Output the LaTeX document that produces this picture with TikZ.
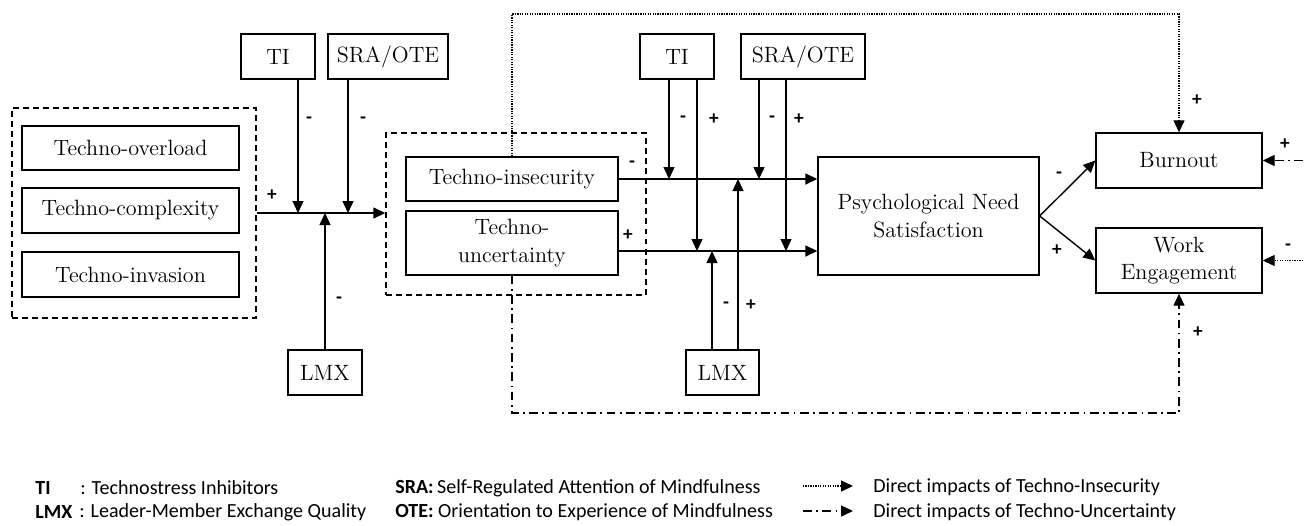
\documentclass[tikz,border=0pt]{standalone}
\usepackage{fontspec}
\newfontfamily\legfont{Carlito}
\usetikzlibrary{arrows.meta,positioning}

\begin{document}
\begin{tikzpicture}[x=0.02cm,y=-0.02cm,
  box/.style={draw,line width=0.8pt,inner sep=0pt,align=center,font=\fontsize{12.6}{15.5}\selectfont},
  grp/.style={draw,line width=0.8pt,dash pattern=on 3.4pt off 2.3pt},
  arr/.style={line width=0.8pt,-{Triangle[length=2.4mm,width=2.2mm]}},
  sgn/.style={font=\legfont\bfseries\fontsize{11}{13}\selectfont,inner sep=0pt},
  dotl/.style={line width=0.7pt,dash pattern=on 0.7pt off 0.7pt},
  ddl/.style={line width=0.8pt,dash pattern=on 5pt off 2.5pt on 1pt off 2.5pt},
  leg/.style={font=\legfont\fontsize{11.4}{13}\selectfont,inner sep=0pt,anchor=west}]
\useasboundingbox (0,0) rectangle (1314,525);
\node[box,minimum width=4.34cm,minimum height=0.88cm] (ovl) at (130.5,148) {Techno-overload};
\node[box,minimum width=4.34cm,minimum height=0.9cm] (cpx) at (130.5,210.5) {Techno-complexity};
\node[box,minimum width=4.34cm,minimum height=0.9cm] (inv) at (130.5,274.5) {Techno-invasion};
\node[grp,minimum width=4.88cm,minimum height=4.2cm] (grpA) at (134,213) {};
\node[box,minimum width=4.24cm,minimum height=0.88cm] (insec) at (512,179) {Techno-insecurity};
\node[box,minimum width=4.24cm,minimum height=1.28cm] (uncert) at (512,243) {Techno-\\uncertainty};
\node[grp,minimum width=5.2cm,minimum height=3.24cm] (grpB) at (516,214) {};
\node[box,minimum width=1.48cm,minimum height=0.9cm] (tiA) at (278,56.5) {TI};
\node[box,minimum width=2.4cm,minimum height=0.9cm] (sraA) at (388,56.5) {SRA/OTE};
\node[box,minimum width=1.48cm,minimum height=0.9cm] (lmxA) at (325,372.5) {LMX};
\node[box,minimum width=1.48cm,minimum height=0.9cm] (tiB) at (677,56.5) {TI};
\node[box,minimum width=2.48cm,minimum height=0.9cm] (sraB) at (803,56.5) {SRA/OTE};
\node[box,minimum width=1.46cm,minimum height=0.9cm] (lmxB) at (722.5,372.5) {LMX};
\node[box,minimum width=4.42cm,minimum height=2.36cm] (pns) at (928.5,216) {Psychological Need\\Satisfaction};
\node[box,minimum width=3.32cm,minimum height=1.1cm] (burn) at (1179,160.5) {Burnout};
\node[box,minimum width=3.32cm,minimum height=1.3cm] (work) at (1179,260.5) {Work\\Engagement};
\coordinate (jA1) at (298,213);
\coordinate (jA2) at (348,213);
\coordinate (jA3) at (325,213);
\coordinate (jB1) at (669,179);
\coordinate (jB2) at (697,251);
\coordinate (jB3) at (786,251);
\coordinate (jB4) at (759,179);
\coordinate (jB5) at (712,251);
\coordinate (jB6) at (738,179);
\coordinate (topY) at (0,14);
\coordinate (botY) at (0,413);
\coordinate (edgeR1) at (1303,160.5);
\coordinate (edgeR2) at (1303,260.5);
\draw[arr] (grpA.east) -- (grpA.east -| grpB.west);
\draw[arr] (jA1 |- tiA.south) -- (jA1);
\draw[arr] (jA2 |- sraA.south) -- (jA2);
\draw[arr] (jA3 |- lmxA.north) -- (jA3);
\draw[arr] (insec.east) -- (insec.east -| pns.west);
\draw[arr] (uncert.east |- jB2) -- (jB2 -| pns.west);
\draw[arr] (jB1 |- tiB.south) -- (jB1);
\draw[arr] (jB2 |- tiB.south) -- (jB2);
\draw[arr] (jB4 |- sraB.south) -- (jB4);
\draw[arr] (jB3 |- sraB.south) -- (jB3);
\draw[arr] (jB5 |- lmxB.north) -- (jB5);
\draw[arr] (jB6 |- lmxB.north) -- (jB6);
\draw[arr] (pns.east) -- (burn.west);
\draw[arr] (pns.east) -- (work.west);
\draw[arr,dotl] (insec.north) -- (insec.north |- topY) -| (burn.north);
\draw[arr,ddl] (uncert.south) |- (work.south |- botY) -- (work.south);
\draw[arr,ddl] (edgeR1) -- (burn.east);
\draw[arr,dotl] (edgeR2) -- (work.east);
\node[sgn] at (272,195) {+};
\node[sgn] at (309,120) {-};
\node[sgn] at (363,120) {-};
\node[sgn] at (339,300) {-};
\node[sgn] at (632,164) {-};
\node[sgn] at (628,235) {+};
\node[sgn] at (683,119) {-};
\node[sgn] at (714,119) {+};
\node[sgn] at (772,119) {-};
\node[sgn] at (799,119) {+};
\node[sgn] at (726,305) {-};
\node[sgn] at (751,305) {+};
\node[sgn] at (1059,175) {-};
\node[sgn] at (1057,250) {+};
\node[sgn] at (1197,100) {+};
\node[sgn] at (1285,144) {+};
\node[sgn] at (1288,247) {-};
\node[sgn] at (1198,332) {+};
\node[leg] (tiK) at (35,488) {\bfseries TI};
\node[leg] (tiV) at (80,488) {: Technostress Inhibitors};
\node[leg] (lmxK) at (35,512) {\bfseries LMX};
\node[leg] (lmxV) at (79,512) {: Leader-Member Exchange Quality};
\node[leg] (sraK) at (395,488) {\textbf{SRA:}\,Self-Regulated Attention of Mindfulness};
\node[leg] (oteK) at (395,512) {\textbf{OTE:} Orientation to Experience of Mindfulness};
\coordinate (l1a) at (803,486);
\coordinate (l1b) at (853,486);
\coordinate (l2a) at (803,511);
\coordinate (l2b) at (853,511);
\draw[arr,dotl] (l1a) -- (l1b);
\draw[arr,ddl] (l2a) -- (l2b);
\node[leg] (insK) at (873,487) {Direct impacts of Techno-Insecurity};
\node[leg] (uncK) at (873,512) {Direct impacts of Techno-Uncertainty};
\end{tikzpicture}
\end{document}
